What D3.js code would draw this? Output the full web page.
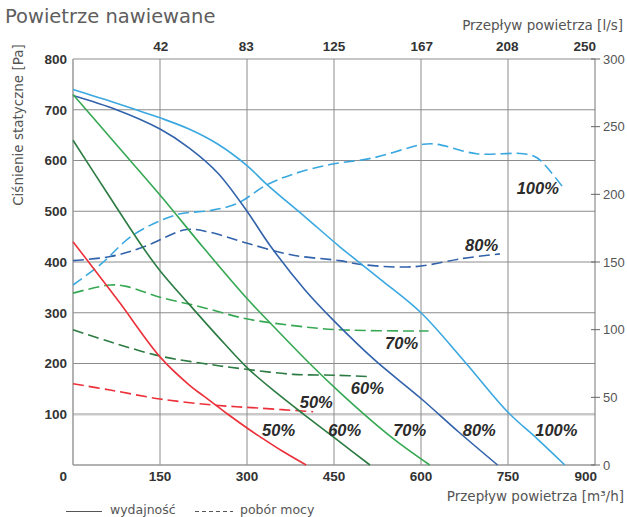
<!DOCTYPE html>
<html><head><meta charset="utf-8">
<script src="https://cdn.jsdelivr.net/npm/d3@7"></script>
<style>
html,body{margin:0;padding:0;background:#fff;}
svg{display:block;}
</style></head>
<body>
<svg id="chart" width="627" height="517"></svg>
<script>
// ---------- data ----------
const xTicks = [0,150,300,450,600,750,900];            // m³/h
const topTicks = [42,83,125,167,208,250];              // l/s
const yTicks = [0,100,200,300,400,500,600,700,800];    // Pa
const yRTicks = [0,50,100,150,200,250,300];            // W (pobór mocy)

// wydajność (flow m³/h, pressure Pa)
const solid100 = [[0,740],[75,713],[150,684],[200,662],[250,632],[300,590],[334,553],[400,489],[460,430],[530,366],[600,300],[675,204],[750,104],[800,52],[848,0]];
const solid80  = [[0,728],[75,700],[150,662],[200,625],[250,575],[300,500],[340,432],[400,345],[450,284],[520,207],[600,131],[665,65],[732,0]];
const solid70  = [[0,730],[75,631],[150,532],[225,428],[300,328],[350,268],[408,200],[460,143],[518,84],[560,45],[615,0]];
const solid60  = [[0,640],[60,534],[121,428],[150,383],[200,317],[250,253],[300,192],[350,143],[400,98],[455,50],[512,0]];
const solid50  = [[0,440],[47,370],[81,319],[150,213],[200,158],[225,136],[253,112],[267,100],[305,69],[322,56],[360,28],[402,0]];

// pobór mocy (flow m³/h, power on right axis)
const dash100 = [[0,133],[47,148],[104,170],[179,185],[236,188],[282,193],[334,207],[380,215],[443,222],[518,227],[604,237],[627,237],[696,230],[776,230],[800,227],[845,205]];
const dash80  = [[0,151],[64,154],[121,161],[196,174],[236,172],[299,164],[380,155],[460,151],[500,148],[587,146.5],[673,152.7],[736,156]];
const dash70  = [[0,127],[64,133],[92,132],[150,124],[219,117],[299,108],[380,103],[455,100],[613,99]];
const dash60  = [[0,100],[64,91],[150,80.5],[225,75],[299,70.7],[380,67],[455,66.3],[512,65.3]];
const dash50  = [[0,60],[64,55.4],[150,48.8],[242,44.3],[322,42],[414,39.4]];

const seriesNames = ["100%","80%","70%","60%","50%"];

// ---------- drawing ----------
const svg = d3.select("#chart");
const x = d3.scaleLinear().domain([0,900]).range([73,595]);
const xTop = d3.scaleLinear().domain([0,250]).range([73,595]);
const y = d3.scaleLinear().domain([0,800]).range([465,59]);
const yR = d3.scaleLinear().domain([0,300]).range([465,59]);

const colors = {"100%":"#3aa8e0","80%":"#3162ab","70%":"#36a853","60%":"#2b7b42","50%":"#ec3039"};
const solids = {"100%":solid100,"80%":solid80,"70%":solid70,"60%":solid60,"50%":solid50};
const dashes = {"100%":dash100,"80%":dash80,"70%":dash70,"60%":dash60,"50%":dash50};

const gridColor = "#8c8c8c";
const g = svg.append("g");

// horizontal grid
g.selectAll("line.hg").data(yTicks.filter(d=>d>0)).enter().append("line")
  .attr("x1",x(0)).attr("x2",x(900)).attr("y1",d=>y(d)).attr("y2",d=>y(d))
  .attr("stroke",d=>d===100?"#c9c9c9":gridColor)
  .attr("stroke-width",d=>d===100?2.6:1);
// vertical grid
g.selectAll("line.vg").data(xTicks.filter(d=>d>0&&d<900)).enter().append("line")
  .attr("x1",d=>x(d)).attr("x2",d=>x(d)).attr("y1",y(0)).attr("y2",y(800))
  .attr("stroke",gridColor).attr("stroke-width",1);
// axes lines
g.append("line").attr("x1",x(0)).attr("x2",x(0)).attr("y1",y(0)).attr("y2",y(800)).attr("stroke","#999").attr("stroke-width",1.5);
g.append("line").attr("x1",x(0)).attr("x2",x(900)).attr("y1",y(0)).attr("y2",y(0)).attr("stroke","#999").attr("stroke-width",1.5);
g.append("line").attr("x1",x(900)).attr("x2",x(900)).attr("y1",y(0)).attr("y2",y(800)).attr("stroke","#777").attr("stroke-width",1);

// right axis ticks
g.selectAll("line.rt").data(yRTicks).enter().append("line")
  .attr("x1",x(900)-4).attr("x2",x(900)+5).attr("y1",d=>yR(d)).attr("y2",d=>yR(d))
  .attr("stroke","#666").attr("stroke-width",1);
g.selectAll("text.rl").data(yRTicks).enter().append("text")
  .attr("x",x(900)+8).attr("y",d=>yR(d)).attr("dy","0.35em")
  .attr("font-family","Liberation Sans, Arial, sans-serif").attr("font-size",13)
  .attr("fill","#555").text(d=>d);

const tickFont = "Liberation Sans, Arial, sans-serif";
// left labels
g.selectAll("text.ll").data(yTicks.filter(d=>d>0)).enter().append("text")
  .attr("x",67).attr("y",d=>y(d)).attr("dy","0.36em").attr("text-anchor","end")
  .attr("font-family",tickFont).attr("font-size",13.5).attr("font-weight","bold")
  .attr("fill","#333").text(d=>d);
// bottom labels
g.selectAll("text.bl").data(xTicks).enter().append("text")
  .attr("x",d=>d===0?67:(d===900?x(d)+2:x(d)))
  .attr("y",y(0)+16)
  .attr("text-anchor",d=>d===0?"end":(d===900?"end":"middle"))
  .attr("font-family",tickFont).attr("font-size",13.5).attr("font-weight","bold")
  .attr("fill","#333").text(d=>d);
// top labels
g.selectAll("text.tl").data(topTicks).enter().append("text")
  .attr("x",d=>d===250?xTop(d)+1:xTop(d))
  .attr("y",y(800)-8)
  .attr("text-anchor",d=>d===250?"end":"middle")
  .attr("font-family",tickFont).attr("font-size",13.5).attr("font-weight","bold")
  .attr("fill","#333").text(d=>d);

// curves
const lineP = d3.line().x(d=>x(d[0])).y(d=>y(d[1])).curve(d3.curveCatmullRom.alpha(0.5));
const lineW = d3.line().x(d=>x(d[0])).y(d=>yR(d[1])).curve(d3.curveCatmullRom.alpha(0.5));
seriesNames.forEach(n=>{
  g.append("path").attr("d",lineW(dashes[n])).attr("fill","none")
    .attr("stroke",colors[n]).attr("stroke-width",1.6).attr("stroke-dasharray","11,5");
});
seriesNames.forEach(n=>{
  g.append("path").attr("d",lineP(solids[n])).attr("fill","none")
    .attr("stroke",colors[n]).attr("stroke-width",1.6);
});

// percent labels (flow, pressure anchor)
const labelFont = "Liberation Sans, Arial, sans-serif";
const pctLabels = [
  ["100%",765,534],["80%",676,422],["70%",538,229],["60%",479,140],["50%",391,112],
  ["50%",326,57],["60%",440,57],["70%",552,57],["80%",672,57],["100%",797,57]
];
g.selectAll("text.pct").data(pctLabels).enter().append("text")
  .attr("x",d=>x(d[1])).attr("y",d=>y(d[2]))
  .attr("font-family",labelFont).attr("font-size",16.5).attr("font-weight","bold")
  .attr("font-style","italic").attr("fill","#2b2b2b").text(d=>d[0]);

// titles
const tFont = "DejaVu Sans, Verdana, sans-serif";
svg.append("text").attr("x",5).attr("y",23).attr("font-family",tFont).attr("font-size",19.5)
  .attr("fill","#5e5e5e").text("Powietrze nawiewane");
svg.append("text").attr("x",623).attr("y",30).attr("text-anchor","end").attr("font-family",tFont)
  .attr("font-size",13.5).attr("fill","#555").text("Przepływ powietrza [l/s]");
svg.append("text").attr("x",624).attr("y",501).attr("text-anchor","end").attr("font-family",tFont)
  .attr("font-size",13.5).attr("fill","#555").text("Przepływ powietrza [m³/h]");
svg.append("text").attr("transform","translate(18,125) rotate(-90)").attr("text-anchor","middle")
  .attr("dy","0.35em").attr("font-family",tFont).attr("font-size",13.5).attr("fill","#555")
  .text("Ciśnienie statyczne [Pa]");

// legend
svg.append("line").attr("x1",66).attr("x2",102).attr("y1",511.5).attr("y2",511.5).attr("stroke","#555").attr("stroke-width",1);
svg.append("text").attr("x",110).attr("y",513.5).attr("font-family",tFont).attr("font-size",12.5).attr("fill","#555").text("wydajność");
svg.append("line").attr("x1",195).attr("x2",233).attr("y1",511.5).attr("y2",511.5).attr("stroke","#555").attr("stroke-width",1).attr("stroke-dasharray","4,3");
svg.append("text").attr("x",240).attr("y",513.5).attr("font-family",tFont).attr("font-size",12.5).attr("fill","#555").text("pobór mocy");
</script>
</body></html>
